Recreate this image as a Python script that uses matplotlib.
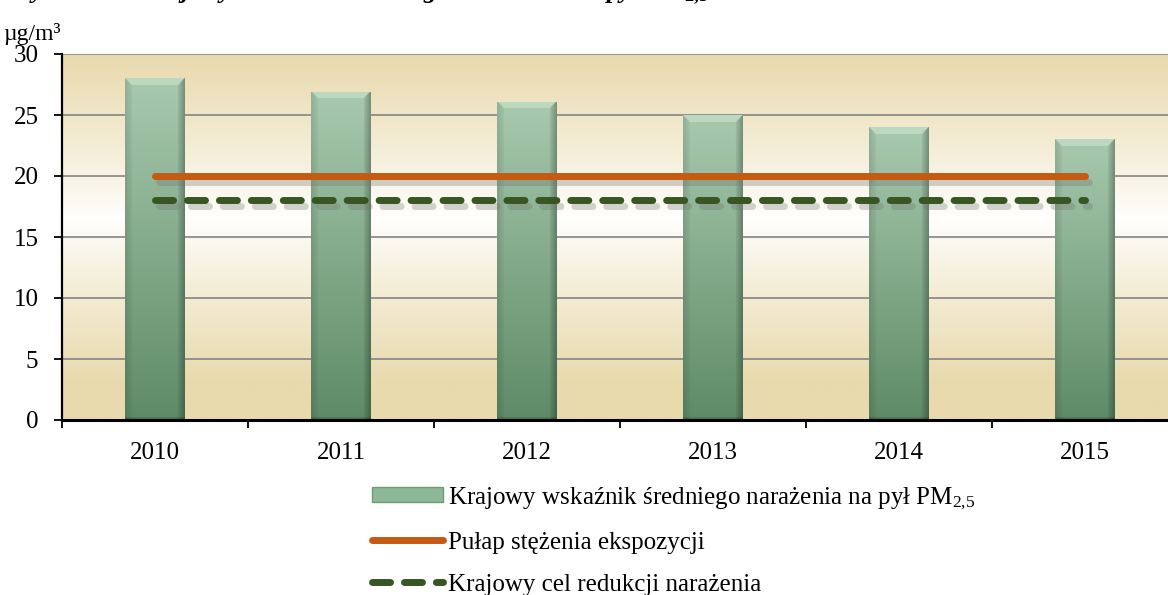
import matplotlib
matplotlib.use("Agg")
import matplotlib.pyplot as plt
import matplotlib.patheffects as pe
from matplotlib.lines import Line2D
from matplotlib.patches import Patch
import numpy as np

plt.rcParams['font.family'] = ['Liberation Serif', 'DejaVu Serif']
plt.rcParams['mathtext.fontset'] = 'custom'
plt.rcParams['mathtext.rm'] = 'Liberation Serif'
plt.rcParams['mathtext.it'] = 'Liberation Serif:italic'
plt.rcParams['mathtext.bf'] = 'Liberation Serif:bold'

# data
years = ['2010', '2011', '2012', '2013', '2014', '2015']
wskaznik = [28.0, 26.9, 26.1, 25.0, 24.0, 23.0]      # krajowy wskaźnik średniego narażenia
pulap = [20, 20, 20, 20, 20, 20]                     # pułap stężenia ekspozycji
cel = [18, 18, 18, 18, 18, 18]                       # krajowy cel redukcji narażenia
y_ticks = [0, 5, 10, 15, 20, 25, 30]

label_bar = 'Krajowy wskaźnik średniego narażenia na pył PM$_{\\mathrm{2{,}5}}$'
label_pulap = 'Pułap stężenia ekspozycji'
label_cel = 'Krajowy cel redukcji narażenia'

W, H = 1168, 595
fig = plt.figure(figsize=(W / 100, H / 100), dpi=100)
ax = fig.add_axes([62 / W, 1 - 420 / H, 1116 / W, 366 / H])

x = np.arange(len(years))
xlim = (-0.5, len(years) - 0.5)
ylim = (0, 30)

# background: tan at top and bottom, white around 16
rows = np.linspace(30, 0, 300)
tan = np.array([233, 218, 173]) / 255.0
t = np.clip(np.abs(rows - 16.5) / 13.5, 0, 1) ** 0.85
bg = 1 - (1 - tan)[None, :] * t[:, None]
bg = np.repeat(bg[:, None, :], 2, axis=1)
ax.imshow(bg, extent=[xlim[0], xlim[1], 0, 30], aspect='auto', zorder=0,
          interpolation='bilinear')

for v in y_ticks[1:]:
    ax.axhline(v, color='#8c8c8c', lw=1.3, zorder=1)

bars = ax.bar(x, wskaznik, width=0.32, color='#8DB898', zorder=2,
              edgecolor='none')


def bar_image(h_px, w_px=59):
    h_px = max(int(h_px), 10)
    v = np.linspace(0, 1, h_px)[:, None]
    top = np.array([168, 201, 174]) / 255.0
    bot = np.array([94, 139, 103]) / 255.0
    img = top[None, None, :] * (1 - v[..., None]) + bot[None, None, :] * v[..., None]
    img = np.repeat(img, w_px, axis=1)
    cols = np.arange(w_px)
    bev = 7
    # top bevel highlight
    for r in range(min(bev, h_px)):
        mask = (cols >= r) & (cols < w_px - r)
        img[r, mask] = img[r, mask] * 0.5 + np.array([210, 234, 212]) / 255.0 * 0.5
    # side bevels
    for c in range(bev):
        k = 1 - (bev - c) / bev
        img[c:, c, :] *= 0.88 + 0.1 * k
        img[c:, w_px - 1 - c, :] *= 0.72 + 0.25 * k
    img[-3:, :, :] *= 0.85
    return np.clip(img, 0, 1)


px_per_unit = 366 / 30
for rect in bars:
    x0, y0 = rect.get_x(), rect.get_y()
    w, h = rect.get_width(), rect.get_height()
    im = ax.imshow(bar_image(h * px_per_unit), extent=[x0, x0 + w, y0, y0 + h],
                   aspect='auto', zorder=2.1, interpolation='bilinear')
    im.set_clip_path(rect)

shadow = [pe.SimpleLineShadow(offset=(3, -4), shadow_color='#707070', alpha=0.3),
          pe.Normal()]
ax.plot(x, pulap, color='#C55A11', lw=5, solid_capstyle='round', zorder=4,
        path_effects=shadow)
ax.plot(x, cel, color='#375623', lw=5, dashes=(2.6, 2.0),
        dash_capstyle='round', zorder=4, path_effects=shadow)

ax.set_xlim(xlim)
ax.set_ylim(ylim)

ax.set_yticks(y_ticks)
ax.tick_params(axis='y', length=6, width=1.3, pad=11, labelsize=18)
ax.set_xticks(np.arange(-0.5, len(years)), [''] * (len(years) + 1))
ax.set_xticks(x, years, minor=True)
ax.tick_params(axis='x', which='major', length=6, width=1.3, direction='out')
ax.tick_params(axis='x', which='minor', length=0, pad=16, labelsize=18)

for s in ['top', 'right']:
    ax.spines[s].set_visible(False)
ax.spines['left'].set_linewidth(1.6)
ax.spines['bottom'].set_linewidth(2.2)
ax.spines['left'].set_zorder(5)
ax.spines['bottom'].set_zorder(5)

fig.text(3 / W, 1 - 40 / H, 'µg/m³', fontsize=17, va='baseline', ha='left')

# title cut off at the top edge of the picture, as in the reference
fig.text(14 / W, 1 + 1 / H,
         'Rysunek 1. Krajowy wskaźnik średniego narażenia na pył PM$_{\\mathbf{2{,}5}}$',
         fontsize=19, fontweight='bold', fontstyle='italic',
         va='baseline', ha='left')

handles = [
    Patch(facecolor='#8DB898', edgecolor='#6E9A78'),
    Line2D([], [], color='#C55A11', lw=5, solid_capstyle='round'),
    Line2D([], [], color='#375623', lw=5, dashes=(2.6, 2.0),
           dash_capstyle='round'),
]
fig.legend(handles, [label_bar, label_pulap, label_cel],
           loc='upper left', bbox_to_anchor=(372 / W, 1 - 485 / H),
           frameon=False, fontsize=18, handlelength=2.85, handleheight=0.55,
           handletextpad=0.2, labelspacing=0.8, borderpad=0, borderaxespad=0)

fig.savefig('out.png', dpi=100)
